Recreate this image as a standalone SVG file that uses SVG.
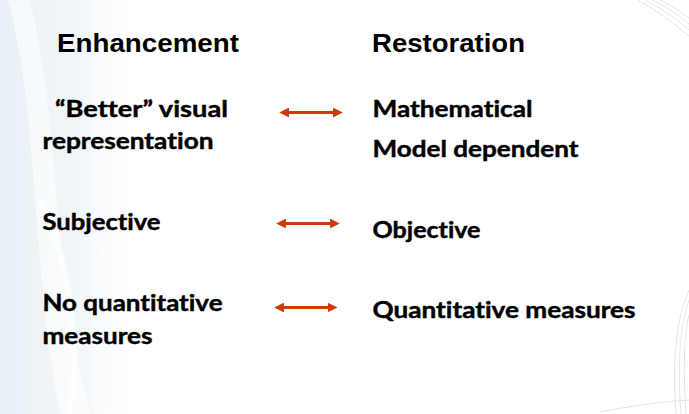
<svg xmlns="http://www.w3.org/2000/svg" width="689" height="414" viewBox="0 0 689 414">
  <defs>
    <style>
      .head { font-family: "Liberation Sans", Arial, sans-serif; font-weight: bold; font-size: 25px; fill: #000; }
      .item { font-family: Lato, "Open Sans", sans-serif; font-weight: bold; font-size: 23px; fill: #000; stroke: #000; stroke-width: 0.45; font-variant-ligatures: none; font-feature-settings: "liga" 0; }
      .link { stroke: #CC3A0A; stroke-width: 2.8; fill: none; marker-start: url(#tip); marker-end: url(#tip); }
      .swirl { fill: none; stroke: #d9d9d9; stroke-width: 1; opacity: 0.7; }
    </style>
    <marker id="tip" viewBox="0 0 10 10" refX="2" refY="5" markerWidth="3.5" markerHeight="3.5" orient="auto-start-reverse" markerUnits="strokeWidth">
      <path d="M0,0 L10,5 L0,10 z" fill="#CC3A0A"/>
    </marker>
    <linearGradient id="leftWash" x1="0" y1="0" x2="1" y2="0">
      <stop offset="0" stop-color="#e8f0f5"/>
      <stop offset="0.6" stop-color="#f3f7fa"/>
      <stop offset="1" stop-color="#ffffff" stop-opacity="0"/>
    </linearGradient>
  </defs>

  <!-- backdrop -->
  <rect width="689" height="414" fill="#ffffff"/>
  <rect x="0" y="0" width="140" height="414" fill="url(#leftWash)"/>
  <path d="M8,0 C40,120 30,260 60,414 L90,414 C50,260 60,120 30,0 z" fill="#ffffff" opacity="0.6"/>
  <path d="M70,414 C80,340 70,260 40,200" fill="none" stroke="#ffffff" stroke-width="6" opacity="0.7"/>

  <!-- corner swirls -->
  <g id="swirls">
    <path class="swirl" d="M645,0 C665,10 680,22 689,30"/>
    <path class="swirl" d="M652,0 C670,9 683,18 689,24"/>
    <path class="swirl" d="M660,0 C674,7 684,14 689,18"/>
    <path class="swirl" d="M638,0 C660,12 676,26 689,36"/>
    <path class="swirl" d="M676,414 C672,360 676,320 689,290"/>
    <path class="swirl" d="M681,414 C677,365 680,325 689,300"/>
    <path class="swirl" d="M686,414 C683,370 684,335 689,315"/>
    <path class="swirl" d="M600,412 C630,406 660,402 689,400"/>
  </g>

  <!-- column headings -->
  <g id="heading-enhancement"><text class="head" x="57" y="52" textLength="182" lengthAdjust="spacingAndGlyphs">Enhancement</text></g>
  <g id="heading-restoration"><text class="head" x="372" y="52" textLength="153" lengthAdjust="spacingAndGlyphs">Restoration</text></g>

  <!-- left column -->
  <g id="enh-visual">
    <text class="item" x="55" y="117" textLength="173" lengthAdjust="spacingAndGlyphs">“Better” visual</text>
    <text class="item" x="42.5" y="149" textLength="171" lengthAdjust="spacingAndGlyphs">representation</text>
  </g>
  <g id="enh-subjective"><text class="item" x="42.5" y="230" textLength="118" lengthAdjust="spacingAndGlyphs">Subjective</text></g>
  <g id="enh-measures">
    <text class="item" x="42.5" y="311" textLength="180" lengthAdjust="spacingAndGlyphs">No quantitative</text>
    <text class="item" x="42.5" y="344" textLength="110" lengthAdjust="spacingAndGlyphs">measures</text>
  </g>

  <!-- right column -->
  <g id="res-math">
    <text class="item" x="372.5" y="117" textLength="160" lengthAdjust="spacingAndGlyphs">Mathematical</text>
    <text class="item" x="372.5" y="157" textLength="206" lengthAdjust="spacingAndGlyphs">Model dependent</text>
  </g>
  <g id="res-objective"><text class="item" x="372.5" y="238" textLength="108" lengthAdjust="spacingAndGlyphs">Objective</text></g>
  <g id="res-measures"><text class="item" x="372.5" y="318" textLength="263" lengthAdjust="spacingAndGlyphs">Quantitative measures</text></g>

  <!-- connectors -->
  <g id="connectors">
    <line class="link" x1="287" y1="112.5" x2="335" y2="112.5"/>
    <line class="link" x1="284" y1="223.5" x2="332" y2="223.5"/>
    <line class="link" x1="282" y1="307.5" x2="329.5" y2="307.5"/>
  </g>
</svg>
